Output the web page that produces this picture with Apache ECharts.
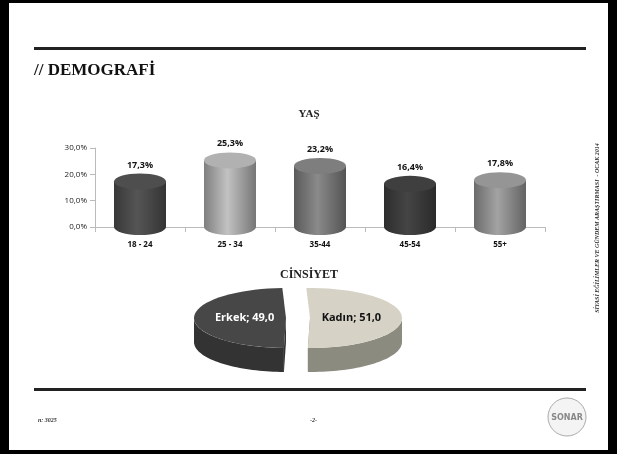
<!DOCTYPE html>
<html>
<head>
<meta charset="utf-8">
<script src="https://cdn.jsdelivr.net/npm/echarts@6/dist/echarts.min.js"></script>
<style>
  html, body { margin: 0; padding: 0; background: #000; }
  #chart { width: 617px; height: 454px; }
</style>
</head>
<body>
<div id="chart"></div>
<script>
// yaş grupları
const ageCategories = ['18 - 24', '25 - 34', '35-44', '45-54', '55+']
const ageValues = [17.3, 25.3, 23.2, 16.4, 17.8]
const ageColors = ['#4a4a4a', '#a9a9a9', '#787878', '#3c3c3c', '#8e8e8e']
const yTicks = [0, 10, 20, 30]

// cinsiyet
const genderNames = ['Erkek', 'Kadın']
const genderValues = [49.0, 51.0]

const fmt = v => v.toFixed(1).replace('.', ',')

const chart = echarts.init(document.getElementById('chart'))

const shade = (c, k) => {
  const n = parseInt(c.slice(1), 16)
  const f = x => Math.max(0, Math.min(255, Math.round(x * k)))
  return 'rgb(' + f(n >> 16) + ',' + f((n >> 8) & 255) + ',' + f(n & 255) + ')'
}

const barGradient = c => new echarts.graphic.LinearGradient(0, 0, 1, 0, [
  { offset: 0, color: shade(c, 0.75) },
  { offset: 0.45, color: shade(c, 1.15) },
  { offset: 1, color: shade(c, 0.7) }
])

const total = genderValues.reduce((a, b) => a + b, 0)
const pieTop = ['#474747', '#d6d3c6']
const pieSide = ['#333333', '#8c8b80']

// elips dilim çizimi (3B görünümlü)
function renderSlice(params, api) {
  const i = params.dataIndex
  const cx = 298, cy = 318, rx = 92, ry = 30, depth = 24
  let before = 0
  for (let k = 0; k < i; k++) before += genderValues[k]
  // saat yönünün tersine, üstten başla: Erkek sol tarafta
  const a0 = Math.PI / 2 + (before / total) * 2 * Math.PI + 0.04
  const a1 = Math.PI / 2 + ((before + api.value(1)) / total) * 2 * Math.PI + 0.04
  const mid = (a0 + a1) / 2
  const ox = Math.cos(mid) * 12, oy = 0
  const pt = (a, dy) => [cx + ox + rx * Math.cos(a), cy + oy - ry * Math.sin(a) + (dy || 0)]
  const steps = 40
  const top = [[cx + ox, cy + oy]]
  for (let s = 0; s <= steps; s++) top.push(pt(a0 + (a1 - a0) * s / steps))
  const side = []
  const lo = Math.max(a0, Math.PI), hi = Math.min(a1, 2 * Math.PI)
  const children = []
  if (hi > lo) {
    for (let s = 0; s <= steps; s++) side.push(pt(lo + (hi - lo) * s / steps))
    for (let s = steps; s >= 0; s--) side.push(pt(lo + (hi - lo) * s / steps, depth))
    children.push({ type: 'polygon', shape: { points: side }, style: { fill: pieSide[i] } })
  }
  // kesit yüzeyi
  const edgeA = i === 0 ? a1 : a0
  const e = pt(edgeA)
  children.push({ type: 'polygon', shape: { points: [[cx + ox, cy + oy], e, [e[0], e[1] + depth], [cx + ox, cy + oy + depth]] }, style: { fill: pieSide[i] } })
  children.push({ type: 'polygon', shape: { points: top }, style: { fill: pieTop[i] } })
  const lp = [cx + ox + rx * 0.45 * Math.cos(mid), cy + oy - ry * 0.45 * Math.sin(mid)]
  children.push({
    type: 'text', x: lp[0], y: lp[1],
    style: {
      text: genderNames[i] + '; ' + fmt(api.value(1)),
      fill: i === 0 ? '#fff' : '#111', font: 'bold 11px "Open Sans", sans-serif',
      align: 'center', verticalAlign: 'middle'
    }
  })
  return { type: 'group', children }
}

chart.setOption({
  animation: false,
  backgroundColor: '#000',
  title: [
    { text: 'YAŞ', left: 304, top: 104, textAlign: 'center',
      textStyle: { fontFamily: 'Liberation Serif', fontSize: 11, fontWeight: 'bold', color: '#222' } },
    { text: 'CİNSİYET', left: 304, top: 264, textAlign: 'center',
      textStyle: { fontFamily: 'Liberation Serif', fontSize: 12, fontWeight: 'bold', color: '#222' } }
  ],
  graphic: [
    { type: 'rect', shape: { x: 9, y: 3, width: 599, height: 447 }, style: { fill: '#fff' }, z: -10 },
    { type: 'rect', shape: { x: 34, y: 47, width: 552, height: 3 }, style: { fill: '#222' } },
    { type: 'rect', shape: { x: 34, y: 388, width: 552, height: 3 }, style: { fill: '#222' } },
    { type: 'text', x: 34, y: 62, style: { text: '// DEMOGRAFİ', font: 'bold 17px "Liberation Serif"', fill: '#111' } },
    { type: 'text', x: 38, y: 417, style: { text: 'n: 3025', font: 'italic bold 6px "Liberation Serif"', fill: '#333' } },
    { type: 'text', x: 310, y: 417, style: { text: '-2-', font: 'italic bold 6px "Liberation Serif"', fill: '#333' } },
    { type: 'text', x: 597, y: 228, rotation: Math.PI / 2,
      style: { text: 'SİYASİ EĞİLİMLER VE GÜNDEM ARAŞTIRMASI  - OCAK 2014', font: 'italic bold 6px "Liberation Serif"',
        fill: '#333', align: 'center', verticalAlign: 'middle' } },
    { type: 'circle', shape: { cx: 567, cy: 417, r: 19 }, style: { fill: '#f4f4f4', stroke: '#aaa', lineWidth: 1 } },
    { type: 'text', x: 567, y: 418, style: { text: 'SONAR', font: 'bold 8px "DejaVu Sans"', fill: '#888', align: 'center', verticalAlign: 'middle' } }
  ],
  grid: { left: 95, right: 72, top: 148, bottom: 227 },
  xAxis: {
    type: 'category', data: ageCategories,
    axisLine: { lineStyle: { color: '#bbb' } },
    axisTick: { show: true, lineStyle: { color: '#bbb' } },
    axisLabel: { color: '#111', fontWeight: 'bold', fontSize: 8, fontFamily: 'Open Sans', margin: 14 }
  },
  yAxis: {
    type: 'value', min: 0, max: 30, interval: 10,
    axisLine: { show: true, lineStyle: { color: '#bbb' } },
    axisTick: { show: true, lineStyle: { color: '#bbb' } },
    splitLine: { show: false },
    axisLabel: { color: '#222', fontSize: 8, fontFamily: 'Open Sans',
      formatter: v => yTicks.includes(v) ? fmt(v) + '%' : '' }
  },
  series: [
    {
      type: 'bar', barWidth: 52, z: 2,
      data: ageValues.map((v, i) => ({ value: v, itemStyle: { color: barGradient(ageColors[i]) } })),
      label: { show: true, position: 'top', distance: 12, formatter: p => fmt(p.value) + '%',
        fontWeight: 'bold', fontSize: 9, fontFamily: 'Open Sans', color: '#111' }
    },
    {
      type: 'pictorialBar', symbol: 'circle', symbolSize: [52, 16], symbolPosition: 'end',
      symbolOffset: [0, '-50%'], z: 3,
      data: ageValues.map((v, i) => ({ value: v, itemStyle: { color: shade(ageColors[i], 1.05) } }))
    },
    {
      type: 'pictorialBar', symbol: 'circle', symbolSize: [52, 16], symbolPosition: 'start',
      symbolOffset: [0, '50%'], z: 1,
      data: ageValues.map((v, i) => ({ value: v, itemStyle: { color: barGradient(ageColors[i]) } }))
    },
    {
      type: 'custom', coordinateSystem: 'none', renderItem: renderSlice,
      data: genderValues.map((v, i) => [i, v])
    }
  ]
})
</script>
</body>
</html>
